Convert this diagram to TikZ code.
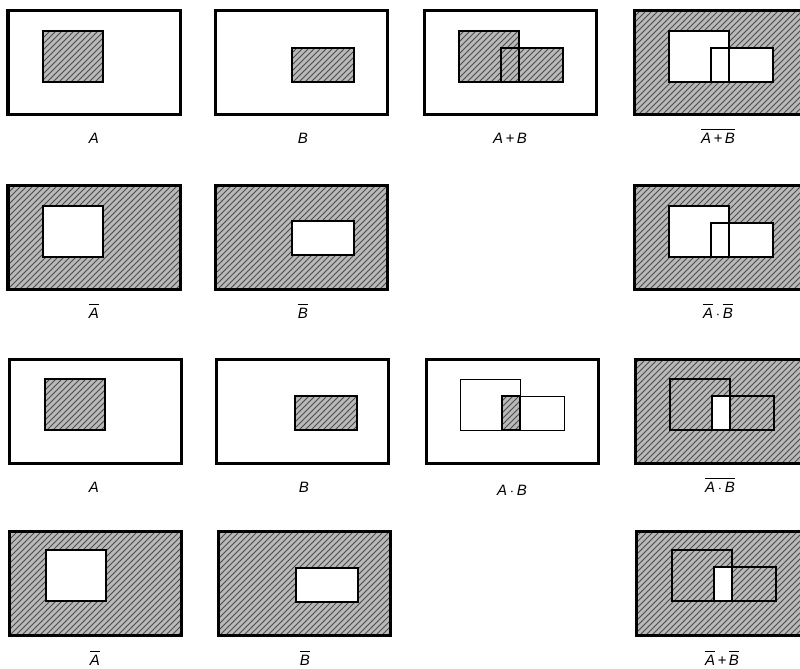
\documentclass[tikz,border=0pt]{standalone}
\usepackage{fontspec}
\setmainfont{Liberation Sans}
\usetikzlibrary{patterns}
\tikzset{
  panel/.style={draw, line width=1.5pt, minimum width=86pt, minimum height=52pt, inner sep=0pt},
  hatched/.style={fill=gray!55, postaction={pattern=north east lines, pattern color=black!70}, postaction={draw}},
  blank/.style={fill=white},
  boxA/.style={anchor=north west, minimum width=30pt, minimum height=25.5pt, inner sep=0pt, outer sep=0pt},
  boxB/.style={anchor=north west, minimum width=31pt, minimum height=17pt, inner sep=0pt, outer sep=0pt},
  boxI/.style={anchor=north west, minimum width=9pt, minimum height=17pt, inner sep=0pt, outer sep=0pt},
  setline/.style={line width=1pt},
  thinline/.style={line width=0.5pt},
  setlabel/.style={font=\fontsize{7.5}{8}\selectfont\itshape, anchor=base, inner sep=0pt},
}
\newcommand{\ovl}[1]{$\overline{\mbox{#1}}$}
\begin{document}
\begin{tikzpicture}[x=0.5pt, y=-0.5pt]
\useasboundingbox (0,0) rectangle (800,669);

% row 1: A, B, A+B, not(A+B)
\node[panel] (p11) at (94,62) {};
\node[boxA, hatched] (a11) at (43,31) {};
\draw[setline] (a11.north west) rectangle (a11.south east);
\node[setlabel] (l11) at (94,143) {A};

\node[panel] (p12) at (301,62) {};
\node[boxB, hatched] (b12) at (292,48) {};
\draw[setline] (b12.north west) rectangle (b12.south east);
\node[setlabel] (l12) at (303,143) {B};

\node[panel] (p13) at (510,62) {};
\node[boxA, hatched] (a13) at (459,31) {};
\node[boxB, hatched] (b13) at (501,48) {};
\draw[setline] (a13.north west) rectangle (a13.south east)
               (b13.north west) rectangle (b13.south east);
\node[setlabel] (l13) at (510,143) {A\,+\,B};

\node[panel, hatched] (p14) at (720,62) {};
\node[boxA, blank] (a14) at (669,31) {};
\node[boxB, blank] (b14) at (711,48) {};
\draw[setline] (a14.north west) rectangle (a14.south east)
               (b14.north west) rectangle (b14.south east);
\node[setlabel] (l14) at (718,143) {\ovl{A\,+\,B}};

% row 2: not A, not B, not A . not B
\node[panel, hatched] (p21) at (94,237) {};
\node[boxA, blank] (a21) at (43,206) {};
\draw[setline] (a21.north west) rectangle (a21.south east);
\node[setlabel] (l21) at (94,318) {\ovl{A}};

\node[panel, hatched] (p22) at (301,237) {};
\node[boxB, blank] (b22) at (292,221) {};
\draw[setline] (b22.north west) rectangle (b22.south east);
\node[setlabel] (l22) at (303,318) {\ovl{B}};

\node[panel, hatched] (p24) at (720,237) {};
\node[boxA, blank] (a24) at (669,206) {};
\node[boxB, blank] (b24) at (711,223) {};
\draw[setline] (a24.north west) rectangle (a24.south east)
               (b24.north west) rectangle (b24.south east);
\node[setlabel] (l24) at (718,318) {\ovl{A}\,$\cdot$\,\ovl{B}};

% row 3: A, B, A.B, not(A.B)
\node[panel] (p31) at (95,411) {};
\node[boxA, hatched] (a31) at (45,379) {};
\draw[setline] (a31.north west) rectangle (a31.south east);
\node[setlabel] (l31) at (94,492) {A};

\node[panel] (p32) at (302,411) {};
\node[boxB, hatched] (b32) at (295,396) {};
\draw[setline] (b32.north west) rectangle (b32.south east);
\node[setlabel] (l32) at (304,492) {B};

\node[panel] (p33) at (512,411) {};
\node[boxA] (a33) at (460,379) {};
\node[boxB] (b33) at (502,396) {};
\node[boxI, hatched] (i33) at (502,396) {};
\draw[thinline] (a33.north west) rectangle (a33.south east)
                (b33.north west) rectangle (b33.south east);
\draw[setline] (i33.north west) rectangle (i33.south east);
\node[setlabel] (l33) at (512,495) {A\,$\cdot$\,B};

\node[panel, hatched] (p34) at (721,411) {};
\node[boxA] (a34) at (670,379) {};
\node[boxB] (b34) at (712,396) {};
\node[boxI, blank] (i34) at (712,396) {};
\draw[setline] (a34.north west) rectangle (a34.south east)
               (b34.north west) rectangle (b34.south east);
\node[setlabel] (l34) at (720,492) {\ovl{A\,$\cdot$\,B}};

% row 4: not A, not B, not A + not B
\node[panel, hatched] (p41) at (95,583) {};
\node[boxA, blank] (a41) at (46,550) {};
\draw[setline] (a41.north west) rectangle (a41.south east);
\node[setlabel] (l41) at (95,665) {\ovl{A}};

\node[panel, hatched] (p42) at (304,583) {};
\node[boxB, blank] (b42) at (296,568) {};
\draw[setline] (b42.north west) rectangle (b42.south east);
\node[setlabel] (l42) at (305,665) {\ovl{B}};

\node[panel, hatched] (p44) at (722,583) {};
\node[boxA] (a44) at (672,550) {};
\node[boxB] (b44) at (714,567) {};
\node[boxI, blank] (i44) at (714,567) {};
\draw[setline] (a44.north west) rectangle (a44.south east)
               (b44.north west) rectangle (b44.south east);
\node[setlabel] (l44) at (722,665) {\ovl{A}\,+\,\ovl{B}};
\end{tikzpicture}
\end{document}
